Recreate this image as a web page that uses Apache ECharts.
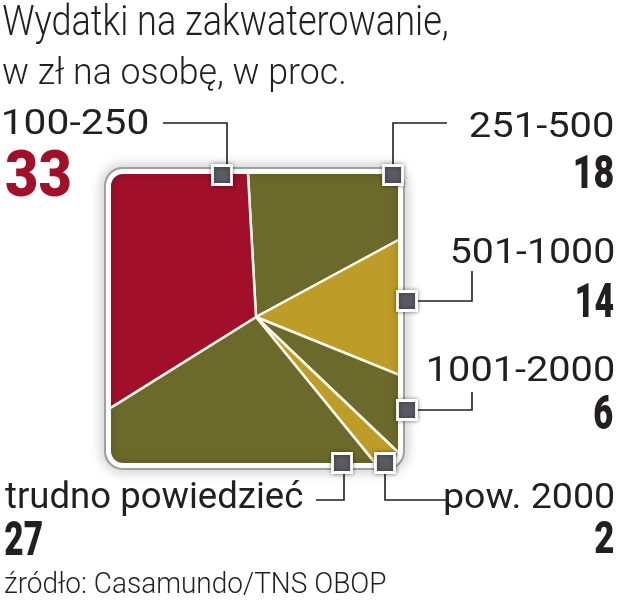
<!DOCTYPE html>
<html><head><meta charset="utf-8">
<script src="https://cdn.jsdelivr.net/npm/echarts@6/dist/echarts.min.js"></script>
<style>html,body{margin:0;padding:0;background:#fff}#c{width:621px;height:604px}</style>
</head><body><div id="c"></div>
<script>
// ---- data ----
const categories = ['251-500', '501-1000', '1001-2000', 'pow. 2000', 'trudno powiedzieć', '100-250'];
const values = [18, 14, 6, 2, 27, 33];
const sliceColors = ['#6c6a2b', '#bd9c27', '#6c6a2b', '#bd9c27', '#6c6a2b', '#a10f2a'];
const titleLines = ['Wydatki na zakwaterowanie,', 'w zł na osobę, w proc.'];
const sourceText = 'źródło: Casamundo/TNS OBOP';

// ---- layout (annotation positions) ----
const inner = [111, 174, 398, 463], innerR = 12;
const outer = [106, 169, 403, 468], outerR = 17;
const canvasBox = [-5, -5, 626, 609];
const labelLayout = {
  '251-500':           { name: [470, 613, 112, 137], val: [575, 613, 155, 188], marker: [393, 175], line: [[447,123],[393,123],[393,165]] },
  '501-1000':          { name: [452, 613, 237, 263], val: [577, 613, 283, 317], marker: [407, 301], line: [[418,301],[472,301],[472,271]] },
  '1001-2000':         { name: [428, 613, 355, 381], val: [594, 613, 395, 429], marker: [407, 410], line: [[418,410],[472,410],[472,392]] },
  'pow. 2000':         { name: [445, 613, 482, 508], ref: '2000', val: [595, 613, 521, 553], marker: [385, 463], line: [[446,500],[385,500],[385,474]] },
  'trudno powiedzieć': { name: [5, 303, 480, 508], ref: 'd', val: [5, 42, 521, 555], marker: [342, 463], line: [[316,500],[344,500],[344,474]] },
  '100-250':           { name: [3, 147, 108, 134], val: [6, 70, 150, 196], valColor: '#a10f2a', marker: [222, 175], line: [[163,123],[227,123],[227,165]] }
};

const mctx = document.createElement('canvas').getContext('2d');
function fitText(text, family, weight, box, color, ref) {
  ref = ref || text;
  const fs0 = 100;
  mctx.font = weight + ' ' + fs0 + 'px ' + family;
  mctx.textBaseline = 'alphabetic';
  const a0 = mctx.measureText(ref).actualBoundingBoxAscent;
  const fs = fs0 * (box[3] - box[2]) / a0;
  const font = weight + ' ' + fs.toFixed(2) + 'px ' + family;
  mctx.font = font;
  mctx.textBaseline = 'alphabetic';
  const ma = mctx.measureText(text);
  const aAlpha = mctx.measureText(ref).actualBoundingBoxAscent;
  mctx.textBaseline = 'middle';
  const aMid = mctx.measureText(ref).actualBoundingBoxAscent;
  const offset = aAlpha - aMid;
  const w = ma.actualBoundingBoxLeft + ma.actualBoundingBoxRight;
  const sx = (box[1] - box[0]) / w;
  return {
    type: 'text', silent: true, z: 15,
    x: box[0] + ma.actualBoundingBoxLeft * sx,
    y: box[3] - offset,
    scaleX: sx, scaleY: 1,
    style: { text: text, font: font, fill: color, textAlign: 'left', textVerticalAlign: 'middle' }
  };
}
function arc(cx, cy, r, a0, a1, n) {
  const p = [];
  for (let k = 0; k <= n; k++) {
    const a = (a0 + (a1 - a0) * k / n) * Math.PI / 180;
    p.push([cx + r * Math.cos(a), cy + r * Math.sin(a)]);
  }
  return p;
}
function leftHalf(b, r, m) {
  const [x0, y0, x1, y1] = b;
  return [[m, y0]].concat(arc(x0 + r, y0 + r, r, 270, 180, 10), arc(x0 + r, y1 - r, r, 180, 90, 10), [[m, y1]]);
}
function rightHalf(b, r, m) {
  const [x0, y0, x1, y1] = b;
  return [[m, y0]].concat(arc(x1 - r, y0 + r, r, -90, 0, 10), arc(x1 - r, y1 - r, r, 0, 90, 10), [[m, y1]]);
}
function band(outB, outR, inB, inR, style, z) {
  const m = (inB[0] + inB[2]) / 2;
  return [
    { type: 'polygon', silent: true, z: z, shape: { points: leftHalf(outB, outR, m + 1.5).concat(leftHalf(inB, inR, m + 1.5).reverse()) }, style: style },
    { type: 'polygon', silent: true, z: z, shape: { points: rightHalf(outB, outR, m - 1.5).concat(rightHalf(inB, inR, m - 1.5).reverse()) }, style: style }
  ];
}

const TXT = '#231f20';
const titleFont = 'Roboto, "Liberation Sans", sans-serif';
const numFont = 'Roboto, "Liberation Sans", sans-serif';

let graphics = [];
// mask everything outside the outer frame
graphics = graphics.concat(band(canvasBox, 0, outer, outerR, { fill: '#ffffff' }, 10));
// soft shadow around frame
graphics.push({ type: 'rect', silent: true, z: 11, shape: { x: outer[0] - 0.5, y: outer[1] - 0.5, width: outer[2] - outer[0] + 1, height: outer[3] - outer[1] + 1, r: outerR }, style: { fill: null, stroke: 'rgba(160,160,160,1)', lineWidth: 3, shadowBlur: 12, shadowColor: 'rgba(0,0,0,0.6)' } });
// white frame ring
graphics = graphics.concat(band(outer, outerR, inner, innerR, { fill: '#ffffff' }, 12));

categories.forEach(function (c, i) {
  const L = labelLayout[c];
  graphics.push({ type: 'polyline', silent: true, z: 13, shape: { points: L.line }, style: { stroke: TXT, lineWidth: 1.6, fill: null } });
  graphics.push({ type: 'rect', silent: true, z: 14, shape: { x: L.marker[0] - 9.5, y: L.marker[1] - 9.5, width: 19, height: 19 }, style: { fill: '#5a5a62', stroke: '#ffffff', lineWidth: 2.8, shadowBlur: 4, shadowColor: 'rgba(0,0,0,0.4)' } });
  graphics.push(fitText(c, numFont, 400, L.name, TXT, L.ref));
  graphics.push(fitText(String(values[i]), numFont, 900, L.val, L.valColor || TXT));
});
graphics.push(fitText(titleLines[0], titleFont, 300, [3, 447, 5, 35], TXT, 'W'));
graphics.push(fitText(titleLines[1], titleFont, 300, [3, 344, 56, 84], TXT, 'ł'));
graphics.push(fitText(sourceText, titleFont, 300, [5, 386, 571, 593], TXT, 'C'));

const chart = echarts.init(document.getElementById('c'), null, { renderer: 'canvas' });
chart.setOption({
  animation: false,
  backgroundColor: '#ffffff',
  series: [{
    type: 'pie',
    center: [256, 317],
    radius: 215,
    startAngle: 93.2,
    clockwise: true,
    silent: true,
    label: { show: false },
    labelLine: { show: false },
    itemStyle: { borderColor: '#fbf8ea', borderWidth: 2.5 },
    data: categories.map(function (c, i) { return { name: c, value: values[i], itemStyle: { color: sliceColors[i] } }; })
  }],
  graphic: { elements: graphics }
});
</script>
</body></html>
